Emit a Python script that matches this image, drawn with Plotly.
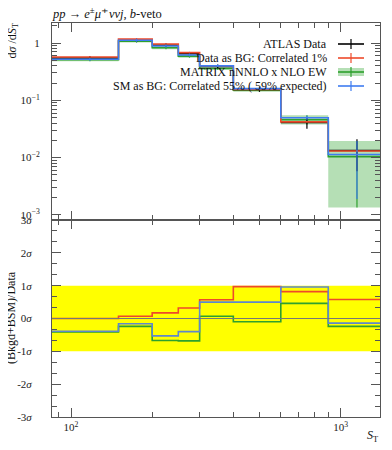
import plotly.graph_objects as go
from plotly.subplots import make_subplots
import math

# ---------------- data ----------------
edges = [85, 150, 200, 250, 300, 400, 600, 900, 1400]
data_vals = [0.55, 1.12, 0.92, 0.65, 0.39, 0.155, 0.041, 0.0133]
data_err = [0.045, 0.08, 0.07, 0.05, 0.03, 0.014, 0.009, 0.0075]
red_vals = [0.57, 1.17, 0.96, 0.68, 0.40, 0.155, 0.042, 0.0130]
blue_vals = [0.52, 1.12, 0.89, 0.62, 0.40, 0.16, 0.0497, 0.0113]
blue_err_up = [0.03, 0.07, 0.05, 0.035, 0.02, 0.008, 0.004, 0.0081]
blue_err_dn = [0.03, 0.07, 0.05, 0.035, 0.02, 0.008, 0.004, 0.0094]
green_vals = [0.51, 1.08, 0.83, 0.59, 0.36, 0.15, 0.0458, 0.0104]
green_lo = [0.48, 1.02, 0.78, 0.555, 0.34, 0.141, 0.038, 0.00134]
green_hi = [0.54, 1.14, 0.88, 0.625, 0.38, 0.159, 0.0546, 0.0194]

ratio_red = [0.0, 0.07, 0.17, 0.32, 0.57, 0.97, 0.82, 0.58]
ratio_blue = [-0.39, -0.16, -0.53, -0.40, 0.50, 0.50, 0.96, -0.14]
ratio_green = [-0.41, -0.24, -0.67, -0.68, 0.07, -0.10, 0.46, -0.24]

legend_labels = ["ATLAS Data", "Data as BG: Correlated 1%",
                 "MATRIX nNNLO x NLO EW", "SM as BG: Correlated 55% ( 59% expected)"]

BLACK = "#000000"
RED = "#ee4a2a"
GREEN = "#2ea02e"
BLUE = "#3f7cf0"
BAND = "rgba(60,170,60,0.38)"
FONT = "Liberation Serif"

centers = [(a + b) / 2 for a, b in zip(edges[:-1], edges[1:])]
halfw = [(b - a) / 2 for a, b in zip(edges[:-1], edges[1:])]


def steps(vals):
    return list(vals) + [vals[-1]]


fig = make_subplots(rows=2, cols=1, shared_xaxes=True, vertical_spacing=0,
                    row_heights=[0.5, 0.5])

# ---------- top panel ----------
fig.add_trace(go.Scatter(x=edges, y=steps(green_lo), mode="lines", line_shape="hv",
                         line=dict(width=0, color=BAND), showlegend=False,
                         hoverinfo="skip"), row=1, col=1)
fig.add_trace(go.Scatter(x=edges, y=steps(green_hi), mode="lines", line_shape="hv",
                         line=dict(width=0, color=BAND), fill="tonexty",
                         fillcolor=BAND, showlegend=False, hoverinfo="skip"),
              row=1, col=1)
fig.add_trace(go.Scatter(x=edges, y=steps(green_vals), mode="lines", line_shape="hv",
                         line=dict(width=1.6, color=GREEN), showlegend=False),
              row=1, col=1)
fig.add_trace(go.Scatter(x=centers, y=green_vals, mode="markers",
                         marker=dict(size=0.1, color=GREEN),
                         error_y=dict(type="data", symmetric=False,
                                      array=[h - v for h, v in zip(green_hi, green_vals)],
                                      arrayminus=[v - l for v, l in zip(green_vals, green_lo)],
                                      color=GREEN, thickness=1.2, width=0),
                         showlegend=False), row=1, col=1)
# data
fig.add_trace(go.Scatter(x=centers, y=data_vals, mode="markers",
                         marker=dict(size=0.1, color=BLACK),
                         error_y=dict(type="data", array=data_err, color=BLACK,
                                      thickness=1.2, width=0),
                         error_x=dict(type="data", array=halfw, color=BLACK,
                                      thickness=1.5, width=0),
                         showlegend=False), row=1, col=1)
fig.add_trace(go.Scatter(x=edges, y=steps(red_vals), mode="lines", line_shape="hv",
                         line=dict(width=1.6, color=RED), showlegend=False),
              row=1, col=1)
fig.add_trace(go.Scatter(x=edges, y=steps(blue_vals), mode="lines", line_shape="hv",
                         line=dict(width=1.6, color=BLUE), showlegend=False),
              row=1, col=1)
fig.add_trace(go.Scatter(x=centers, y=blue_vals, mode="markers",
                         marker=dict(size=0.1, color=BLUE),
                         error_y=dict(type="data", symmetric=False, array=blue_err_up,
                                      arrayminus=blue_err_dn, color=BLUE,
                                      thickness=1.2, width=0),
                         showlegend=False), row=1, col=1)

# ---------- ratio panel ----------
fig.add_shape(type="rect", xref="x2 domain", yref="y2", x0=0, x1=1, y0=-1, y1=1,
              fillcolor="#ffff00", line=dict(width=0), layer="below")
fig.add_shape(type="line", xref="x2 domain", yref="y2", x0=0, x1=1, y0=0, y1=0,
              line=dict(color="#777777", width=1))
fig.add_trace(go.Scatter(x=edges, y=steps(ratio_green), mode="lines", line_shape="hv",
                         line=dict(width=1.6, color=GREEN), showlegend=False),
              row=2, col=1)
fig.add_trace(go.Scatter(x=edges, y=steps(ratio_red), mode="lines", line_shape="hv",
                         line=dict(width=1.6, color=RED), showlegend=False),
              row=2, col=1)
fig.add_trace(go.Scatter(x=edges, y=steps(ratio_blue), mode="lines", line_shape="hv",
                         line=dict(width=1.6, color="#5f88cc"), showlegend=False),
              row=2, col=1)

# ---------- axes ----------
xr = [math.log10(edges[0]), math.log10(edges[-1])]
axis_common = dict(showline=True, linecolor="#555555", linewidth=1, mirror="ticks",
                   ticks="inside", tickcolor="#555555", showgrid=False, zeroline=False,
                   automargin=False)
fig.update_xaxes(type="log", range=xr, tickvals=[100, 1000],
                 ticktext=["10<sup>2</sup>", "10<sup>3</sup>"], ticklen=9,
                 minor=dict(ticks="inside", ticklen=5, tickcolor="#555555",
                            tickvals=[90, 200, 300, 400, 500, 600, 700, 800, 900, 2000],
                            showgrid=False),
                 tickfont=dict(family=FONT, size=11, color="#222"), **axis_common)
fig.update_xaxes(showticklabels=False, row=1, col=1)

fig.update_yaxes(type="log", range=[-3.09, 0.35], row=1, col=1,
                 tickvals=[0.001, 0.01, 0.1, 1],
                 ticktext=["10<sup>−3</sup>", "10<sup>−2</sup>", "10<sup>−1</sup>", "1"],
                 ticklen=9, ticklabelstandoff=9,
                 minor=dict(ticks="inside", ticklen=5, tickcolor="#555555",
                            tickvals=[k * 10 ** e for e in (-3, -2, -1, 0)
                                      for k in range(2, 10)], showgrid=False),
                 tickfont=dict(family=FONT, size=11, color="#222"), **axis_common)
fig.update_yaxes(range=[-3, 3], row=2, col=1,
                 tickvals=[-3, -2, -1, 0, 1, 2, 3],
                 ticktext=["-3<i>σ</i>", "-2<i>σ</i>", "-1<i>σ</i>", "0<i>σ</i>",
                           "1<i>σ</i>", "2<i>σ</i>", "3<i>σ</i>"],
                 ticklen=9, ticklabelstandoff=17,
                 minor=dict(ticks="inside", ticklen=5, tickcolor="#555555",
                            dtick=1 / 3, showgrid=False),
                 tickfont=dict(family=FONT, size=11, color="#222"), **axis_common)

# ---------- texts ----------
# the page body has an 8px margin, so the figure is drawn 8px in from the top-left
OFF = 8
L, R, T, B = 44, 12, 15, 33
W, H = 384, 442
pw, ph = W - L - R, H - T - B


def px(x):
    return (x - OFF - L) / pw


def py(y):
    return 1 - (y - OFF - T) / ph


annots = [
    dict(text="<i>pp</i> → <i>e</i><sup>±</sup><i>μ</i><sup>∓</sup><i>ννj</i>, <i>b</i>-veto",
         x=px(50), y=py(13), xanchor="left", yanchor="middle", font=dict(size=12.5)),
    dict(text="d<i>σ</i> /d<i>S</i><sub>T</sub>", x=px(13), y=py(22), textangle=-90,
         xanchor="center", yanchor="top", font=dict(size=12)),
    dict(text="(Bkgd+BSM)/Data", x=px(11), y=py(318), textangle=-90,
         xanchor="center", yanchor="middle", font=dict(size=12)),
    dict(text="<i>S</i><sub>T</sub>", x=px(380), y=py(436), xanchor="right",
         yanchor="middle", font=dict(size=12)),
]
leg_y = [44, 58, 72, 86]
for lab, yy in zip(legend_labels, leg_y):
    annots.append(dict(text=lab, x=px(329), y=py(yy), xanchor="right", yanchor="middle",
                       font=dict(size=12)))
for a in annots:
    a.update(xref="paper", yref="paper", showarrow=False)
    a["font"].update(family=FONT, color="#111")
fig.update_layout(annotations=annots)

leg_cols = [BLACK, RED, GREEN, BLUE]
for i, (c, yy) in enumerate(zip(leg_cols, leg_y)):
    if i == 2:
        fig.add_shape(type="rect", xref="paper", yref="paper", x0=px(338), x1=px(364),
                      y0=py(yy + 4), y1=py(yy - 4), fillcolor=BAND, line=dict(width=0))
    fig.add_shape(type="line", xref="paper", yref="paper", x0=px(338), x1=px(364),
                  y0=py(yy), y1=py(yy), line=dict(color=c, width=1.6))
    fig.add_shape(type="line", xref="paper", yref="paper", x0=px(351), x1=px(351),
                  y0=py(yy - 5), y1=py(yy + 5), line=dict(color=c, width=1.2))

fig.update_layout(width=W, height=H, margin=dict(l=L, r=R, t=T, b=B),
                  plot_bgcolor="white", paper_bgcolor="white", showlegend=False,
                  font=dict(family=FONT, size=11, color="#222"))

fig.write_html("out.html")
